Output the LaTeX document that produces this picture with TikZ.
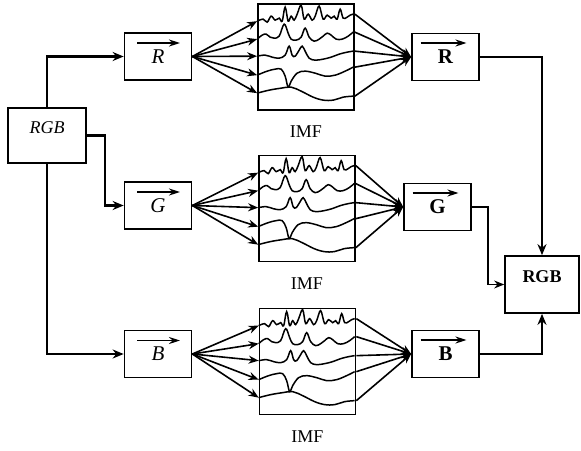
\documentclass[tikz,border=0pt]{standalone}
\usepackage{fontspec}
\setmainfont{Liberation Serif}
\usetikzlibrary{arrows.meta,calc,positioning}

\begin{document}
\begin{tikzpicture}[x=1pt, y=-1pt,
	every node/.style={font=\fontsize{18}{20}\selectfont},
	blk/.style={draw, line width=1.7pt, minimum width=67pt, minimum height=47pt, inner sep=0pt, font=\fontsize{21}{22}\selectfont},
	imfbox/.style={draw, line width=1.7pt, minimum width=96pt, minimum height=106pt, inner sep=0pt},
	link/.style={line width=2.1pt, -{Stealth[length=11pt,width=9pt]}},
	thinlink/.style={line width=1.2pt, -{Stealth[length=10pt,width=8pt]}},
	fan/.style={line width=1.6pt, -{Stealth[length=10pt,width=8pt]}},
	vecarr/.style={line width=1.8pt, -{Stealth[length=11pt,width=7pt]}},
	wave/.style={line width=1.5pt}]
\useasboundingbox (0,0) rectangle (581,450);

\node [blk, minimum width=78pt, minimum height=55pt] (rgbin) at (47,135.5) {};
\node (rgbintxt) at ([yshift=8pt]rgbin.center) {\textit{RGB}};
\node [blk, minimum width=74pt, minimum height=57pt] (rgbout) at (542,284.5) {};
\node (rgbouttxt) at ([yshift=8pt]rgbout.center) {\textbf{RGB}};

\node [blk] (rin) at (158,56.5) {\textit{R}};
\node [blk] (gin) at (158,205.5) {\textit{G}};
\node [blk] (bin) at (158,354) {\textit{B}};

\node [imfbox] (imfr) at (306,57) {};
\node [imfbox] (imfg) at (307,208.5) {};
\node [imfbox] (imfb) at (307.5,361.5) {};
\node [below=15pt of imfr, inner sep=0pt] (imfrlbl) {IMF};
\node [below=15pt of imfg, inner sep=0pt] (imfglbl) {IMF};
\node [below=15pt of imfb, inner sep=0pt] (imfblbl) {IMF};

\node [blk] (rout) at (445.5,57) {\textbf{R}};
\node [blk] (gout) at (437.5,207) {\textbf{G}};
\node [blk] (bout) at (445.5,354) {\textbf{B}};

\foreach \c in {r,g,b} {
	\draw [vecarr] ($(\c in.center)+(-21,-13.5)$) -- ++(43,0);
	\draw [vecarr] ($(\c out.center)+(-25,-14)$) -- ++(46,0);
	\foreach \y [count=\k] in {18,36,53,72,90} {
		\coordinate (imf\c-in-\k) at ([yshift={-\y*1pt}]imf\c.north west);
		\draw [fan] (\c in.east) -- (imf\c-in-\k);
	}
	\foreach \y [count=\k] in {11,29,48,64,93} {
		\coordinate (imf\c-out-\k) at ([yshift={-\y*1pt}]imf\c.north east);
		\draw [fan] (imf\c-out-\k) -- (\c out.west);
	}
	\begin{scope}[shift={(imf\c.north west)}]
		\draw [wave] plot [smooth, tension=0.6] coordinates {(0,18) (6,16) (10,19) (14,13) (18,17) (22,15) (25,18) (28,4) (31,18) (34,13) (37,17) (40,11) (44,2) (47,16) (51,11) (55,17) (58,13) (62,3) (66,16) (70,12) (74,15) (77,13) (80,16) (83,6) (86,15) (90,14) (93,12) (96,11)};
		\draw [wave] plot [smooth, tension=0.6] coordinates {(0,36) (5,32) (9,31) (13,34) (17,35) (22,33) (27,21) (31,30) (34,36) (39,37) (44,34) (48,25) (52,34) (57,38) (62,36) (66,33) (70,30) (74,32) (79,36) (85,36) (91,33) (96,29)};
		\draw [wave] plot [smooth, tension=0.6] coordinates {(0,53) (8,52) (15,54) (22,55) (28,52) (32,43) (35,52) (38,53) (42,47) (45,43) (48,48) (52,55) (58,57) (66,56) (74,54) (82,51) (90,49) (96,48)};
		\draw [wave] plot [smooth, tension=0.6] coordinates {(0,72) (10,68) (18,66) (24,66) (28,73) (31,84) (34,78) (40,70) (48,68) (58,70) (68,73) (78,72) (88,68) (96,64)};
		\draw [wave] plot [smooth, tension=0.6] coordinates {(0,90) (12,87) (24,85) (34,84) (44,88) (56,94) (66,97) (76,97) (86,94) (96,93)};
	\end{scope}
}

\coordinate (gbend) at (105,0);
\coordinate (goutbend) at (488,0);
\draw [link] (rgbin.north) |- (rin.west);
\draw [link] (rgbin.east) -| (gbend |- gin.west) -- (gin.west);
\draw [link] (rgbin.south) |- (bin.west);
\draw [link] (rout.east) -| (rgbout.north);
\draw [thinlink] (gout.east) -| (goutbend |- rgbout.west) -- (rgbout.west);
\draw [link] (bout.east) -| (rgbout.south);
\end{tikzpicture}
\end{document}
